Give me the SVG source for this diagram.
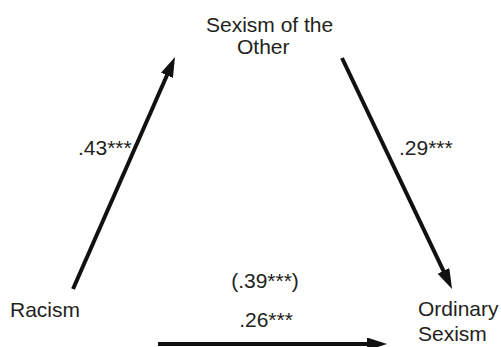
<svg xmlns="http://www.w3.org/2000/svg" width="501" height="347" viewBox="0 0 501 347">
<style>
text{font-family:"Liberation Sans",Arial,sans-serif;font-size:21px;fill:#231f20}
.c{stroke:#111;stroke-width:4;fill:none}
</style>
<defs>
<marker id="ah" markerUnits="userSpaceOnUse" markerWidth="20" markerHeight="14" refX="2" refY="6.5" orient="auto">
<path d="M0,0 L20,6.5 L0,13 z" fill="#111"/>
</marker>
</defs>
<rect width="501" height="347" fill="#fff"/>
<g id="connectors">
<line class="c" x1="73" y1="289" x2="167.75" y2="73.5" marker-end="url(#ah)"/>
<line class="c" x1="342" y1="58" x2="444.3" y2="272.7" marker-end="url(#ah)"/>
<line class="c" x1="158" y1="344" x2="369" y2="344" marker-end="url(#ah)"/>
<text x="78" y="155">.43***</text>
<text x="399" y="155">.29***</text>
<text x="265" y="288" text-anchor="middle">(.39***)</text>
<text x="266" y="327" text-anchor="middle">.26***</text>
</g>
<g id="node-sexism-other">
<text x="206" y="32">Sexism of the</text>
<text x="237" y="54">Other</text>
</g>
<g id="node-racism">
<text x="10" y="317">Racism</text>
</g>
<g id="node-ordinary-sexism">
<text x="418" y="316">Ordinary</text>
<text x="418" y="341">Sexism</text>
</g>
</svg>
